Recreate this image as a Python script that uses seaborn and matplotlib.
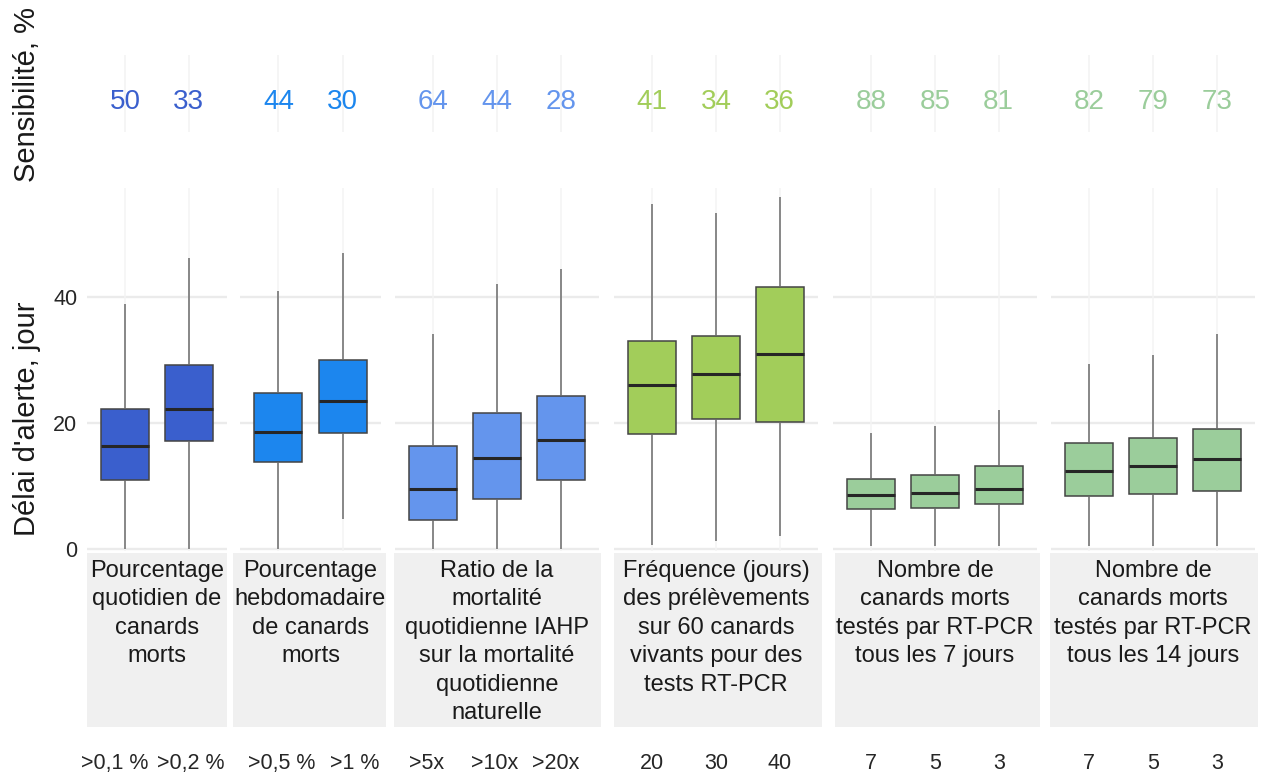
import numpy as np
import pandas as pd
import matplotlib
matplotlib.use("Agg")
import matplotlib.pyplot as plt
import seaborn as sns

sns.set_theme(style="white")
plt.rcParams["font.family"] = ["Liberation Sans", "DejaVu Sans"]

# ---------------- data ----------------
facet_titles = [
    "Pourcentage\nquotidien de\ncanards\nmorts",
    "Pourcentage\nhebdomadaire\nde canards\nmorts",
    "Ratio de la\nmortalité\nquotidienne IAHP\nsur la mortalité\nquotidienne\nnaturelle",
    "Fréquence (jours)\ndes prélèvements\nsur 60 canards\nvivants pour des\ntests RT-PCR",
    "Nombre de\ncanards morts\ntestés par RT-PCR\ntous les 7 jours",
    "Nombre de\ncanards morts\ntestés par RT-PCR\ntous les 14 jours",
]
categories = [
    [">0,1 %", ">0,2 %"],
    [">0,5 %", ">1 %"],
    [">5x", ">10x", ">20x"],
    ["20", "30", "40"],
    ["7", "5", "3"],
    ["7", "5", "3"],
]
sensitivity = [
    [50, 33],
    [44, 30],
    [64, 44, 28],
    [41, 34, 36],
    [88, 85, 81],
    [82, 79, 73],
]
facet_colors = ["#3A5FCD", "#1C86EE", "#6495ED", "#A2CD5A", "#9BCD9B", "#9BCD9B"]

# box statistics (délai d'alerte, jours): min, Q1, median, Q3, max
d_min = [[0.0, 0.0], [0.0, 4.7], [0.0, 0.0, 0.0], [0.6, 1.3, 2.1], [0.5, 0.5, 0.5], [0.5, 0.5, 0.5]]
d_q1 = [[11.0, 17.1], [13.8, 18.5], [4.6, 8.0, 10.9], [18.3, 20.7, 20.2], [6.4, 6.5, 7.1], [8.5, 8.8, 9.2]]
d_med = [[16.3, 22.2], [18.6, 23.5], [9.6, 14.5, 17.4], [26.0, 27.9, 31.0], [8.6, 8.9, 9.5], [12.4, 13.2, 14.3]]
d_q3 = [[22.2, 29.2], [24.8, 30.0], [16.4, 21.7, 24.4], [33.0, 33.8, 41.6], [11.2, 11.8, 13.2], [16.8, 17.7, 19.1]]
d_max = [[38.9, 46.3], [41.0, 47.0], [34.2, 42.1, 44.5], [54.9, 53.5, 55.9], [18.4, 19.6, 22.1], [29.4, 30.8, 34.2]]

# ---------------- layout (pixels) ----------------
W, H = 1268, 773
fig = plt.figure(figsize=(W / 100, H / 100), dpi=100)

panel_x = [(87, 227), (240, 381), (395, 599), (614, 818), (833, 1037), (1051, 1255)]
strip_x = [(87, 227), (233, 386), (394, 601), (614, 822), (835, 1040), (1050, 1258)]
top_y = (55, 132)
main_y = (188, 551)
strip_y = (553, 727)
# small horizontal shifts of the category labels (in category units)
label_shift = [[-0.16, 0.025], [0.055, 0.19], [-0.11, -0.045, -0.075],
               [0, 0, 0], [0, 0, 0], [0, 0, 0]]


def rect(x0, x1, y0, y1):
    return [x0 / W, 1 - y1 / H, (x1 - x0) / W, (y1 - y0) / H]


text_col = "#1A1A1A"
grid_major = "#EBEBEB"
grid_minor = "#F4F4F4"

for f in range(6):
    cats = categories[f]
    n = len(cats)
    col = facet_colors[f]
    xl = (-0.6, n - 0.4)

    # ---- long-form data for this facet
    rows = []
    for i, c in enumerate(cats):
        for v in (d_min[f][i], d_q1[f][i], d_med[f][i], d_q3[f][i], d_max[f][i]):
            rows.append({"cat": c, "val": v})
    df = pd.DataFrame(rows)

    # ---- top band with sensitivity
    axt = fig.add_axes(rect(panel_x[f][0], panel_x[f][1], top_y[0], top_y[1]))
    axt.set_xlim(*xl)
    axt.set_ylim(0, 1)
    axt.set_xticks(range(n))
    axt.set_xticklabels([])
    axt.set_yticks([])
    axt.tick_params(length=0)
    axt.grid(axis="x", color=grid_minor, linewidth=1.2)
    for s in axt.spines.values():
        s.set_visible(False)
    for i, v in enumerate(sensitivity[f]):
        axt.text(i, 0.39, str(v), color=col, fontsize=20, ha="center", va="center")

    # ---- main boxplot panel
    ax = fig.add_axes(rect(panel_x[f][0], panel_x[f][1], main_y[0], main_y[1]))
    sns.boxplot(
        data=df, x="cat", y="val", order=cats, color=col, saturation=1,
        width=0.75, whis=np.inf, showcaps=False, linecolor="#444444", linewidth=1.1,
        medianprops=dict(color="#262626", linewidth=2.2),
        whiskerprops=dict(color="#6A6A6A", linewidth=1.1),
        ax=ax,
    )
    ax.set_xlim(*xl)
    ax.set_ylim(-0.32, 57.4)
    ax.set_xlabel("")
    ax.set_ylabel("")
    ax.set_yticks([0, 20, 40])
    ax.set_xticks(range(n))
    ax.set_xticklabels([])
    ax.grid(False)
    ax.set_axisbelow(True)
    for yv in (0, 20, 40):
        ax.axhline(yv, color=grid_major, linewidth=1.7, zorder=0)
    for i in range(n):
        ax.axvline(i, color=grid_minor, linewidth=1.1, zorder=0)
    for s in ax.spines.values():
        s.set_visible(False)
    ax.tick_params(axis="x", length=5, width=0.9, color="#333333", direction="out", pad=0)
    if f == 0:
        ax.tick_params(axis="y", length=3, width=0.8, color="#BBBBBB", labelsize=15.5,
                       labelcolor="#262626", pad=4)
    else:
        ax.tick_params(axis="y", length=0)
        ax.set_yticklabels([])

    # ---- strip below with facet title and category labels
    axs = fig.add_axes(rect(strip_x[f][0], strip_x[f][1], strip_y[0], strip_y[1]))
    sx0, sx1 = strip_x[f]
    px0, px1 = panel_x[f]
    scale = (xl[1] - xl[0]) / (px1 - px0)
    axs.set_xlim(xl[0] - (px0 - sx0) * scale, xl[1] + (sx1 - px1) * scale)
    axs.set_ylim(0, 1)
    axs.set_facecolor("#F0F0F0")
    for s in axs.spines.values():
        s.set_visible(False)
    axs.set_yticks([])
    axs.set_xticks([i + label_shift[f][i] for i in range(n)])
    axs.set_xticklabels(cats, fontsize=15.5, color="#262626")
    axs.tick_params(axis="x", length=0, pad=19)
    axs.text((xl[0] + xl[1]) / 2, 0.96, facet_titles[f], ha="center", va="top",
             fontsize=17, color=text_col, linespacing=1.38)

fig.text(27 / W, 1 - 95 / H, "Sensibilité, %", rotation=90, ha="center", va="center",
         fontsize=21, color=text_col)
fig.text(27 / W, 1 - 419 / H, "Délai d'alerte, jour", rotation=90,
         ha="center", va="center", fontsize=21, color=text_col)

fig.savefig("out.png", dpi=100, facecolor="white")
